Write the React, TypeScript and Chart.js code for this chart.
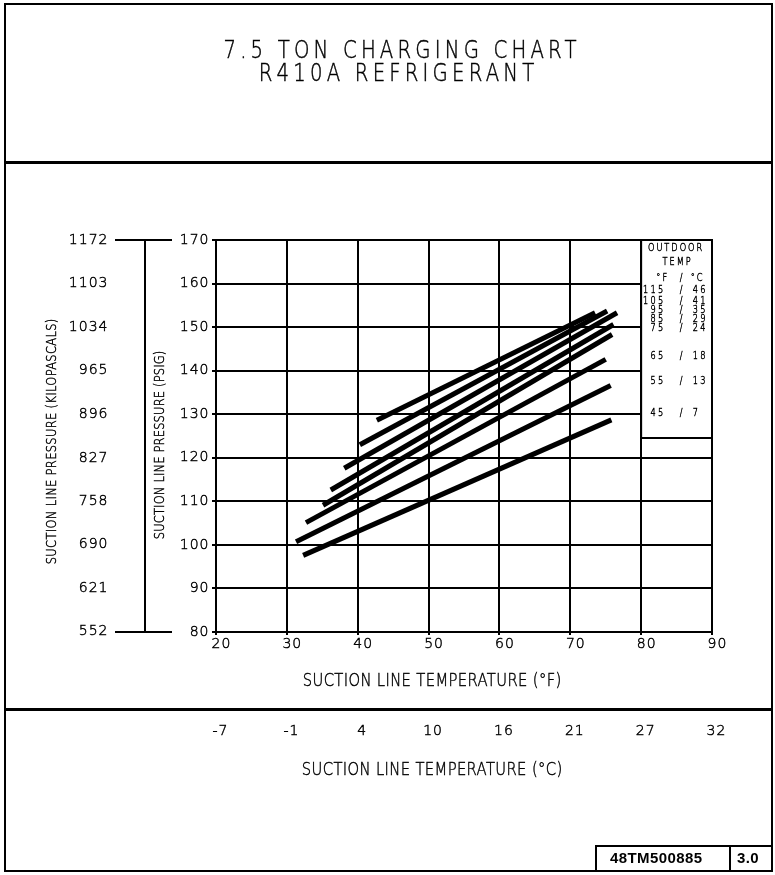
import React, { useEffect, useRef } from 'react';
import { Chart, registerables } from 'chart.js';

Chart.register(...registerables);

// ---------- data ----------
const outdoorTempF = [115, 105, 95, 85, 75, 65, 55, 45];
const outdoorTempC = [46, 41, 35, 29, 24, 18, 13, 7];
const startTempF = [42.7, 40.3, 38.1, 36.2, 35.1, 32.7, 31.3, 32.3];
const startPsig = [128.6, 123.0, 117.6, 112.6, 109.1, 105.1, 100.7, 97.6];
const endTempF = [73.5, 75.2, 76.6, 76.1, 75.9, 75.0, 75.7, 75.8];
const endPsig = [153.3, 153.7, 153.3, 150.6, 148.3, 142.6, 136.6, 128.7];

const tempTicksF = [20, 30, 40, 50, 60, 70, 80, 90];
const tempLabelsC = ['-7', '-1', '4', '10', '16', '21', '27', '32'];
const psigTicks = [80, 90, 100, 110, 120, 130, 140, 150, 160, 170];
const kpaTicks = [552, 621, 690, 758, 827, 896, 965, 1034, 1103, 1172];

const titleLines = ['7.5 TON CHARGING CHART', 'R410A REFRIGERANT'];
const xTitleF = 'SUCTION LINE TEMPERATURE (°F)';
const xTitleC = 'SUCTION LINE TEMPERATURE (°C)';
const yTitlePsig = 'SUCTION LINE PRESSURE (PSIG)';
const yTitleKpa = 'SUCTION LINE PRESSURE (KILOPASCALS)';
const legendHeader = ['OUTDOOR', 'TEMP'];
const legendUnits = ['°F', '/', '°C'];
const docNumber = '48TM500885';
const docRev = '3.0';

// ---------- helpers ----------
const KPA_PER_PSI = 6.894757;
const fToC = (f: number) => (f - 32) / 1.8;

const CAD_FONT = '"DejaVu Sans", sans-serif';
const CAD_WEIGHT = '200';
const CAD_STROKE = 0.45;
const PLAIN_FONT = '"Liberation Sans", Arial, sans-serif';
const INK = '#000';
const NARROW = 0.82;

function drawText(
  ctx: CanvasRenderingContext2D,
  str: string,
  x: number,
  y: number,
  size: number,
  spacing: number,
  align: CanvasTextAlign = 'center',
  rotation = 0,
  opts: { family?: string; weight?: string; sx?: number; stroke?: number } = {}
) {
  const family = opts.family ?? CAD_FONT;
  const weight = opts.weight ?? CAD_WEIGHT;
  const sx = opts.sx ?? NARROW;
  const stroke = opts.stroke ?? CAD_STROKE;
  ctx.save();
  ctx.translate(x, y);
  if (rotation) ctx.rotate(rotation);
  ctx.scale(sx, 1);
  ctx.font = `${weight} ${size}px ${family}`;
  (ctx as any).letterSpacing = `${spacing}px`;
  ctx.textAlign = align;
  ctx.textBaseline = 'middle';
  ctx.fillStyle = INK;
  const shift = align === 'center' ? spacing / 2 : align === 'right' ? spacing : 0;
  ctx.fillText(str, shift, 0);
  if (stroke > 0) {
    ctx.strokeStyle = INK;
    ctx.lineWidth = stroke;
    ctx.strokeText(str, shift, 0);
  }
  ctx.restore();
}

const framePlugin = {
  id: 'chargingChartFrame',
  beforeDraw(chart: any) {
    (chart.ctx as any).letterSpacing = '1px';
  },
  afterDraw(chart: any) {
    const { ctx, chartArea: ca, scales } = chart;
    const xs = scales.x;
    ctx.save();
    (ctx as any).letterSpacing = '0px';
    ctx.strokeStyle = '#000';
    const seg = (x1: number, y1: number, x2: number, y2: number, w: number) => {
      ctx.strokeStyle = '#000';
      ctx.lineWidth = w;
      ctx.beginPath();
      ctx.moveTo(x1, y1);
      ctx.lineTo(x2, y2);
      ctx.stroke();
    };

    // drawing frame
    ctx.lineWidth = 2;
    ctx.strokeRect(5, 4, 767, 867);
    seg(5, 162.5, 772, 162.5, 3);
    seg(5, 709.5, 772, 709.5, 3);

    // title block
    drawText(ctx, titleLines[0], 400, 52, 24, 5.1);
    drawText(ctx, titleLines[1], 396.5, 75, 24, 5.1);

    // kPa / psig connector lines at the ends of the pressure scales
    seg(115, ca.top, 172, ca.top, 2);
    seg(115, ca.bottom, 172, ca.bottom, 2);

    // axis titles
    drawText(ctx, yTitleKpa, 52, 441.5, 14, 0.4, 'center', -Math.PI / 2);
    drawText(ctx, yTitlePsig, 160, 445, 14, 0.2, 'center', -Math.PI / 2);
    drawText(ctx, xTitleF, 432, 681, 18, 0.45);
    drawText(ctx, xTitleC, 432, 770, 18, 0.45);

    // legend box (80..90 °F column, top of the plot)
    const lx0 = xs.getPixelForValue(80);
    const lx1 = xs.getPixelForValue(90);
    const ly0 = ca.top;
    const ly1 = ca.top + 198;
    ctx.fillStyle = '#fff';
    ctx.fillRect(lx0, ly0, lx1 - lx0, ly1 - ly0);
    ctx.lineWidth = 2;
    ctx.strokeStyle = '#000';
    ctx.strokeRect(lx0, ly0, lx1 - lx0, ly1 - ly0);
    const mid = (lx0 + lx1) / 2;
    drawText(ctx, legendHeader[0], mid - 1.5, ly0 + 8, 10, 2.4);
    drawText(ctx, legendHeader[1], mid, ly0 + 22.5, 10, 2.4);
    drawText(ctx, legendUnits[0], lx0 + 26, ly0 + 38.5, 10, 2.4, 'right');
    drawText(ctx, legendUnits[1], lx0 + 40, ly0 + 38.5, 10, 0);
    drawText(ctx, legendUnits[2], lx0 + 49.5, ly0 + 38.5, 10, 2.4, 'left');
    const rowOffsets = [50.7, 61, 70.3, 79.3, 88.3, 116.3, 141.7, 173.3];
    outdoorTempF.forEach((f, i) => {
      const yy = ly0 + rowOffsets[i];
      drawText(ctx, String(f), lx0 + 22, yy, 10, 2.8, 'right');
      drawText(ctx, '/', lx0 + 40, yy, 10, 0);
      drawText(ctx, String(outdoorTempC[i]), lx0 + 51.5, yy, 10, 2.8, 'left');
    });

    // document number block
    seg(596, 846, 772, 846, 2);
    seg(596, 845, 596, 872, 2);
    seg(730, 845, 730, 872, 2);
    const plain = { family: PLAIN_FONT, weight: 'bold', sx: 1, stroke: 0 };
    drawText(ctx, docNumber, 610, 858.5, 15, 0.4, 'left', 0, plain);
    drawText(ctx, docRev, 737, 858.5, 15, 0.4, 'left', 0, plain);

    ctx.restore();
    (ctx as any).letterSpacing = '0px';
  },
};

const tickFont = { family: CAD_FONT, size: 14, weight: CAD_WEIGHT };
const tickText = { color: INK, font: tickFont, textStrokeColor: INK, textStrokeWidth: CAD_STROKE };

export default function App() {
  const ref = useRef<HTMLCanvasElement>(null);

  useEffect(() => {
    if (!ref.current) return;
    const chart = new Chart(ref.current, {
      type: 'line',
      data: {
        datasets: outdoorTempF.map((t, i) => ({
          label: `${t} / ${outdoorTempC[i]}`,
          data: [
            { x: startTempF[i], y: startPsig[i] },
            { x: endTempF[i], y: endPsig[i] },
          ],
          borderColor: '#000',
          backgroundColor: '#000',
          borderWidth: 5,
          borderCapStyle: 'butt',
          pointRadius: 0,
          fill: false,
          tension: 0,
        })),
      },
      options: {
        responsive: false,
        maintainAspectRatio: false,
        devicePixelRatio: 1,
        animation: false,
        events: [],
        layout: { padding: { left: 0, top: 240, right: 63, bottom: 86 } },
        plugins: {
          legend: { display: false },
          title: { display: false },
          tooltip: { enabled: false },
        },
        scales: {
          x: {
            type: 'linear',
            position: 'bottom',
            min: tempTicksF[0],
            max: tempTicksF[tempTicksF.length - 1],
            weight: 0,
            afterBuildTicks: (s: any) => {
              s.ticks = tempTicksF.map((v) => ({ value: v }));
            },
            afterFit: (s: any) => {
              s.height = 77;
            },
            grid: { color: '#000', lineWidth: 2, tickLength: 3, drawTicks: true },
            border: { display: true, color: '#000', width: 2 },
            ticks: {
              ...tickText,
              padding: 1,
              labelOffset: 5.5,
              maxRotation: 0,
              autoSkip: false,
              callback: (v: any) => String(v),
            },
          },
          xC: {
            type: 'linear',
            axis: 'x',
            position: 'bottom',
            weight: 1,
            min: fToC(tempTicksF[0]),
            max: fToC(tempTicksF[tempTicksF.length - 1]),
            afterBuildTicks: (s: any) => {
              s.ticks = tempTicksF.map((f) => ({ value: fToC(f) }));
            },
            afterFit: (s: any) => {
              s.height = 80;
            },
            grid: { display: false, drawTicks: false },
            border: { display: false },
            ticks: {
              ...tickText,
              padding: 14,
              labelOffset: 4.5,
              maxRotation: 0,
              autoSkip: false,
              callback: (_v: any, i: number) => tempLabelsC[i],
            },
          },
          y: {
            type: 'linear',
            position: 'left',
            weight: 0,
            min: psigTicks[0],
            max: psigTicks[psigTicks.length - 1],
            afterBuildTicks: (s: any) => {
              s.ticks = psigTicks.map((v) => ({ value: v }));
            },
            afterFit: (s: any) => {
              s.width = 71;
            },
            grid: { color: '#000', lineWidth: 2, tickLength: 4, drawTicks: true },
            border: { display: true, color: '#000', width: 2 },
            ticks: {
              ...tickText,
              padding: 2.5,
              autoSkip: false,
              callback: (v: any) => String(v),
            },
          },
          yKpa: {
            type: 'linear',
            axis: 'y',
            position: 'left',
            weight: 1,
            min: psigTicks[0] * KPA_PER_PSI,
            max: psigTicks[psigTicks.length - 1] * KPA_PER_PSI,
            afterBuildTicks: (s: any) => {
              s.ticks = kpaTicks.map((v) => ({ value: v }));
            },
            afterFit: (s: any) => {
              s.width = 145;
            },
            grid: { display: false, drawTicks: false },
            border: { display: true, color: '#000', width: 2 },
            ticks: {
              ...tickText,
              padding: 36.5,
              autoSkip: false,
              callback: (v: any) => String(v),
            },
          },
        },
      } as any,
      plugins: [framePlugin],
    });
    return () => chart.destroy();
  }, []);

  return (
    <div style={{ position: 'absolute', left: 0, top: 0, width: 775, height: 875, background: '#fff' }}>
      <canvas ref={ref} width={775} height={875} style={{ display: 'block', width: 775, height: 875 }} />
    </div>
  );
}
